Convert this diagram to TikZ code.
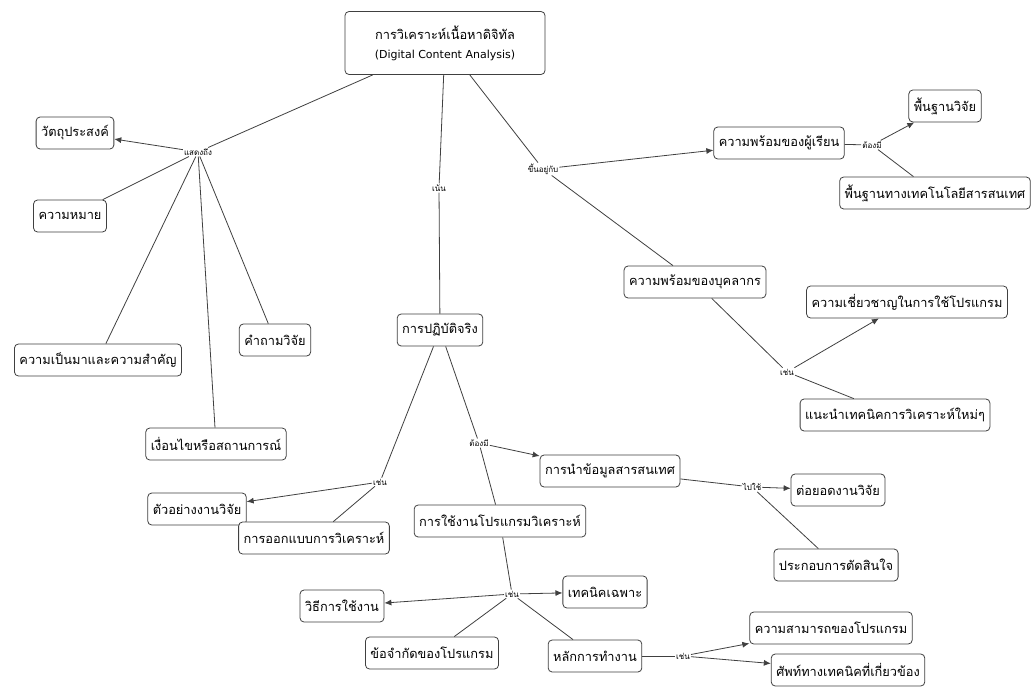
\documentclass[tikz,border=0pt]{standalone}
\usepackage{fontspec}
\usetikzlibrary{arrows.meta}
\newfontfamily\thaifont[Script=Thai]{Loma}
\newfontfamily\latinfont{DejaVu Sans}
\begin{document}
\begin{tikzpicture}[x=1pt,y=-1pt,
  concept/.style={draw=black!75, line width=0.8pt, rounded corners=4pt, fill=white,
    inner xsep=5pt, inner ysep=3pt, minimum height=32pt, font=\thaifont\fontsize{12.8}{15}\selectfont},
  linkword/.style={fill=white, inner sep=1pt, font=\thaifont\fontsize{8}{9}\selectfont},
  conn/.style={draw=black!75, line width=0.8pt},
  arr/.style={conn, -{Latex[length=7pt,width=6pt]}}]
\useasboundingbox (0,0) rectangle (1034,686);
\fill[white] (0,0) rectangle (1034,686);

% main topic
\node[concept, minimum width=200pt, minimum height=63pt, align=center] (root) at (445,43)
  {การวิเคราะห์เนื้อหาดิจิทัล\\[4pt]{\latinfont\fontsize{11}{13}\selectfont(Digital Content Analysis)}};

% concepts
\node[concept] (obj) at (75,133) {วัตถุประสงค์};
\node[concept] (mean) at (70,216) {ความหมาย};
\node[concept] (bg) at (98,360) {ความเป็นมาและความสำคัญ};
\node[concept] (rq) at (275,340) {คำถามวิจัย};
\node[concept] (cond) at (216,444) {เงื่อนไขหรือสถานการณ์};
\node[concept] (practice) at (440,330) {การปฏิบัติจริง};
\node[concept] (example) at (197,509) {ตัวอย่างงานวิจัย};
\node[concept] (design) at (314,538) {การออกแบบการวิเคราะห์};
\node[concept] (info) at (610,471) {การนำข้อมูลสารสนเทศ};
\node[concept] (prog) at (500,521) {การใช้งานโปรแกรมวิเคราะห์};
\node[concept] (extend) at (838,490) {ต่อยอดงานวิจัย};
\node[concept] (decide) at (836,565) {ประกอบการตัดสินใจ};
\node[concept] (howto) at (342,606) {วิธีการใช้งาน};
\node[concept] (tech) at (605,592) {เทคนิคเฉพาะ};
\node[concept] (limit) at (432,653) {ข้อจำกัดของโปรแกรม};
\node[concept] (princ) at (595,656) {หลักการทำงาน};
\node[concept] (ability) at (831,628) {ความสามารถของโปรแกรม};
\node[concept] (terms) at (848,670) {ศัพท์ทางเทคนิคที่เกี่ยวข้อง};
\node[concept] (learner) at (779,143) {ความพร้อมของผู้เรียน};
\node[concept] (resfound) at (945,106) {พื้นฐานวิจัย};
\node[concept] (itfound) at (935,193) {พื้นฐานทางเทคโนโลยีสารสนเทศ};
\node[concept] (staff) at (695,282) {ความพร้อมของบุคลากร};
\node[concept] (expert) at (907,302) {ความเชี่ยวชาญในการใช้โปรแกรม};
\node[concept] (newtech) at (895,415) {แนะนำเทคนิคการวิเคราะห์ใหม่ๆ};

% linking words
\node[linkword] (shows) at (198,152) {แสดงถึง};
\node[linkword] (focus) at (439,188) {เน้น};
\node[linkword] (depends) at (543,169) {ขึ้นอยู่กับ};
\node[linkword] (must1) at (872,145) {ต้องมี};
\node[linkword] (eg1) at (787,372) {เช่น};
\node[linkword] (eg2) at (380,482) {เช่น};
\node[linkword] (must2) at (479,443) {ต้องมี};
\node[linkword] (use) at (752,487) {ไปใช้};
\node[linkword] (eg3) at (512,594) {เช่น};
\node[linkword] (eg4) at (683,656) {เช่น};

% connectors
\draw[conn] (root) -- (shows);
\draw[arr] (shows) -- (obj);
\draw[conn] (shows) -- (mean);
\draw[conn] (shows) -- (bg);
\draw[conn] (shows) -- (cond);
\draw[conn] (shows) -- (rq);

\draw[conn] (root) -- (focus);
\draw[conn] (focus) -- (practice);

\draw[conn] (root) -- (depends);
\draw[arr] (depends) -- (learner);
\draw[conn] (depends) -- (staff);
\draw[conn] (learner) -- (must1);
\draw[arr] (must1) -- (resfound);
\draw[conn] (must1) -- (itfound);
\draw[conn] (staff) -- (eg1);
\draw[arr] (eg1) -- (expert);
\draw[conn] (eg1) -- (newtech);

\draw[conn] (practice) -- (eg2);
\draw[arr] (eg2) -- (example);
\draw[conn] (eg2) -- (design);
\draw[conn] (practice) -- (must2);
\draw[arr] (must2) -- (info);
\draw[conn] (must2) -- (prog);

\draw[conn] (info) -- (use);
\draw[arr] (use) -- (extend);
\draw[conn] (use) -- (decide);

\draw[conn] (prog) -- (eg3);
\draw[arr] (eg3) -- (howto);
\draw[arr] (eg3) -- (tech);
\draw[conn] (eg3) -- (limit);
\draw[conn] (eg3) -- (princ);

\draw[conn] (princ) -- (eg4);
\draw[arr] (eg4) -- (ability);
\draw[arr] (eg4) -- (terms);
\end{tikzpicture}
\end{document}
